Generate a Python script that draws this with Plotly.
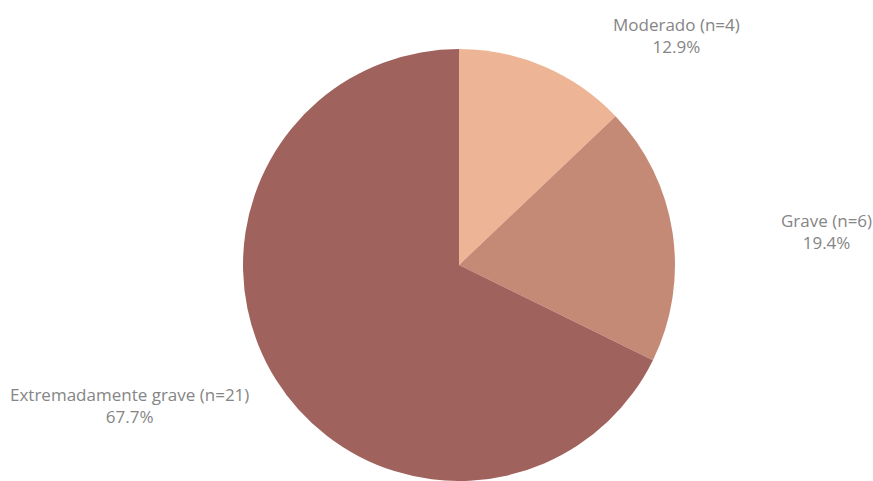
import plotly.graph_objects as go

labels = ["Moderado", "Grave", "Extremadamente grave"]
counts = [4, 6, 21]
colors = ["#EDB596", "#C48A76", "#A0625C"]
# label anchor positions (paper coords) for the outside annotations
label_x = [0.7749, 0.9462, 0.1483]
label_y = [1.0301, 0.5764, 0.1759]

total = sum(counts)
fig = go.Figure(go.Pie(
    labels=labels, values=counts, sort=False, direction="clockwise",
    rotation=0, marker=dict(colors=colors, line=dict(width=0)),
    textinfo="none", hoverinfo="label+value+percent",
    domain=dict(x=[0.27835, 0.7732], y=[0, 1]),
))

for lab, c, x, y in zip(labels, counts, label_x, label_y):
    fig.add_annotation(
        x=x, y=y, xref="paper", yref="paper", showarrow=False,
        text=f"{lab} (n={c})<br>{100*c/total:.1f}%",
        font=dict(family="Open Sans", size=17, color="#858585"),
        align="center", xanchor="center", yanchor="middle",
    )

fig.update_layout(
    width=873, height=481, showlegend=False,
    margin=dict(l=0, r=0, t=49, b=0),
    paper_bgcolor="white", plot_bgcolor="white",
)
fig.write_html(
    "out.html",
    config={"displayModeBar": False},
    post_script="document.body.style.margin='0';document.body.style.overflow='hidden';",
)
